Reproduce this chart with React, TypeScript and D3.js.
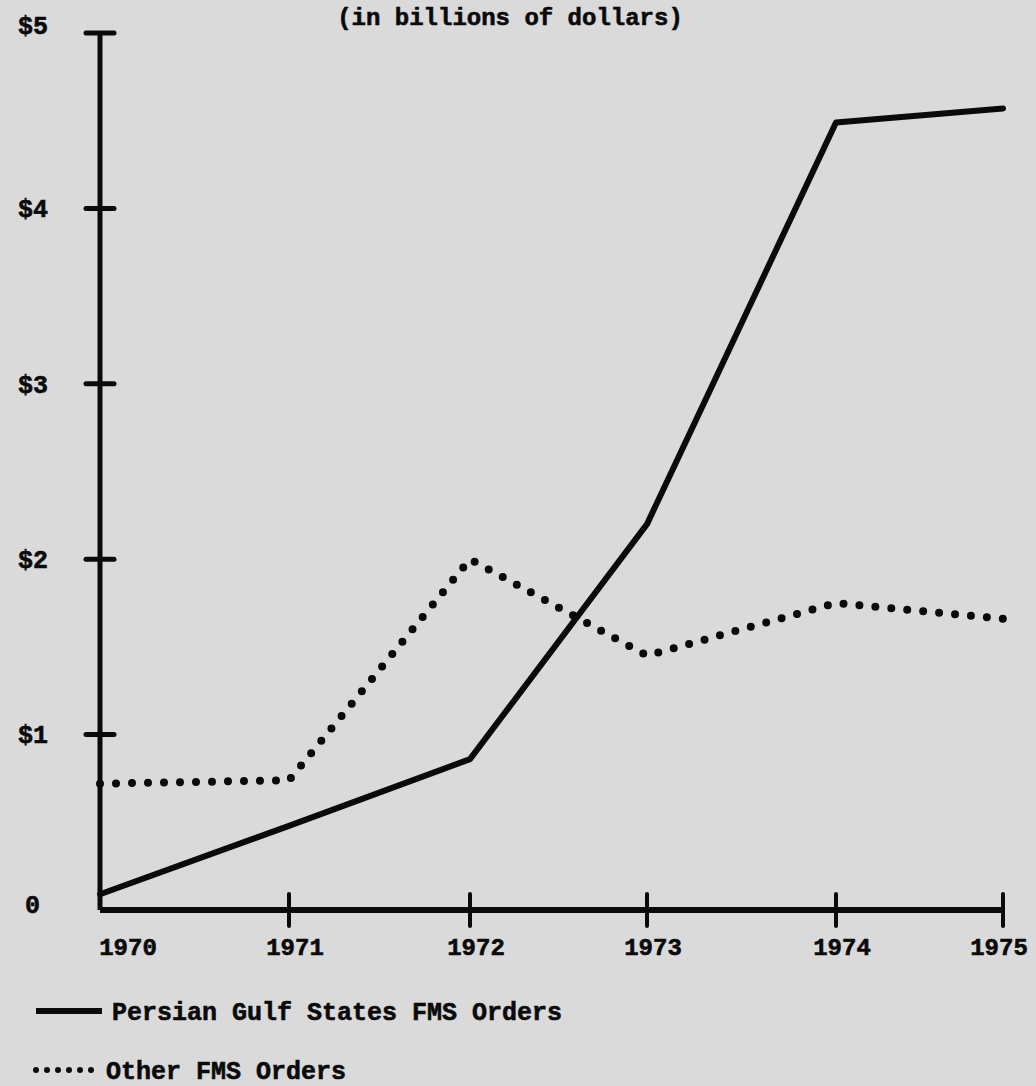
import React from "react";
import * as d3 from "d3";

const width = 1036;
const height = 1086;

// Fiscal years on the x axis
const years = [1970, 1971, 1972, 1973, 1974, 1975];
// FMS orders, billions of dollars
const persianGulf = [0.09, 0.48, 0.86, 2.2, 4.49, 4.57];
const otherFms = [0.72, 0.74, 2.0, 1.45, 1.75, 1.66];
// y ticks and their labels
const yTicks = [0, 1, 2, 3, 4, 5];
const yTickLabels = ["0", "$1", "$2", "$3", "$4", "$5"];

const subtitle = "(in billions of dollars)";
const legendLabels = ["Persian Gulf States FMS Orders", "Other FMS Orders"];

const typeFont = "'Liberation Mono', 'DejaVu Sans Mono', monospace";
const ink = "#0a0a0a";
const paper = "#dadada";

// the original axis was hand ruled, so the year ticks are not quite even
const x = d3.scaleLinear().domain(years).range([100, 289, 470, 647, 836, 1003]);
const y = d3.scaleLinear().domain([0, 5]).range([910, 33]);

const textProps = {
  fontFamily: typeFont,
  fontWeight: "bold",
  fill: ink,
  stroke: ink,
  strokeWidth: 0.6,
};

const App: React.FC = () => {
  const line = d3
    .line<number>()
    .x((_, i) => x(years[i]))
    .y((d) => y(d));

  const labelShift = (i: number) => (i === 0 ? 28 : i === years.length - 1 ? -4 : 6);

  return (
    <svg
      width={width}
      height={height}
      style={{ position: "fixed", left: 0, top: 0, background: paper }}
    >
      <rect width={width} height={height} fill={paper} />

      <text x={510} y={25} textAnchor="middle" fontSize={24} {...textProps}>
        {subtitle}
      </text>

      {/* y axis */}
      <line x1={x(1970)} x2={x(1970)} y1={y(5)} y2={y(0)} stroke={ink} strokeWidth={5} />
      {yTicks.map((t, i) => (
        <g key={t}>
          {t > 0 && (
            <line
              x1={x(1970) - 14}
              x2={x(1970) + 14}
              y1={y(t)}
              y2={y(t)}
              stroke={ink}
              strokeWidth={5}
              strokeLinecap="round"
            />
          )}
          <text
            x={t === 0 ? 40 : 48}
            y={t === 5 ? y(t) - 8 : y(t)}
            dy={t === 0 ? "0.1em" : "0.35em"}
            textAnchor="end"
            fontSize={25}
            {...textProps}
          >
            {yTickLabels[i]}
          </text>
        </g>
      ))}

      {/* x axis */}
      <line x1={x(1970)} x2={x(1975)} y1={y(0)} y2={y(0)} stroke={ink} strokeWidth={6} />
      {years.map((yr, i) => (
        <g key={yr}>
          {i > 0 && (
            <line
              x1={x(yr)}
              x2={x(yr)}
              y1={y(0) - 16}
              y2={y(0) + 16}
              stroke={ink}
              strokeWidth={4}
              strokeLinecap="round"
            />
          )}
          <text
            x={x(yr) + labelShift(i)}
            y={955}
            textAnchor="middle"
            fontSize={24}
            {...textProps}
          >
            {yr}
          </text>
        </g>
      ))}

      {/* series */}
      <path
        d={line(otherFms) ?? ""}
        fill="none"
        stroke={ink}
        strokeWidth={8}
        strokeLinecap="round"
        strokeDasharray="0 16"
      />
      <path
        d={line(persianGulf) ?? ""}
        fill="none"
        stroke={ink}
        strokeWidth={6}
        strokeLinejoin="round"
        strokeLinecap="round"
      />

      {/* legend */}
      <line x1={36} x2={102} y1={1011} y2={1011} stroke={ink} strokeWidth={6} />
      <text x={112} y={1020} fontSize={25} {...textProps}>
        {legendLabels[0]}
      </text>
      <line
        x1={36}
        x2={100}
        y1={1070}
        y2={1070}
        stroke={ink}
        strokeWidth={6}
        strokeLinecap="round"
        strokeDasharray="0 11"
      />
      <text x={106} y={1079} fontSize={25} {...textProps}>
        {legendLabels[1]}
      </text>
    </svg>
  );
};

export default App;
